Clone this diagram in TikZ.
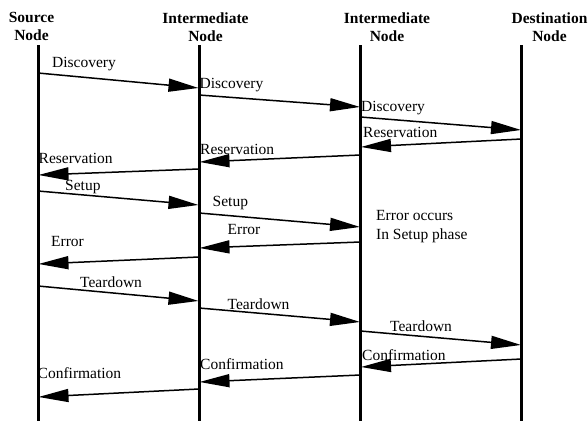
\documentclass[tikz,border=0pt]{standalone}
\usepackage{fontspec}
\setmainfont{Liberation Serif}
\usetikzlibrary{arrows.meta}
\begin{document}
\begin{tikzpicture}[x=1pt,y=-1pt,
  hdr/.style={font=\fontsize{15.5}{18}\selectfont\bfseries, align=center, inner sep=0pt, anchor=north},
  lbl/.style={font=\fontsize{15.5}{18}\selectfont, inner sep=0pt, anchor=base west},
  life/.style={line width=3pt},
  msg/.style={line width=1.5pt, -{Triangle[length=30pt,width=13pt]}, shorten >=0.5pt}]
\useasboundingbox (0,0) rectangle (588,421);
% headers
\node[hdr] (hs)  at (31.5,12.5) {Source\\Node};
\node[hdr] (hi1) at (205.5,12.5) {Intermediate\\Node};
\node[hdr] (hi2) at (387,12.5) {Intermediate\\Node};
\node[hdr] (hd)  at (549.5,12.5) {Destination\\Node};
% lifelines
\coordinate (sT) at (38,45);    \coordinate (sB) at (38,421);
\coordinate (aT) at (199,45);   \coordinate (aB) at (199,421);
\coordinate (bT) at (360.5,45); \coordinate (bB) at (360.5,421);
\coordinate (dT) at (521.5,45); \coordinate (dB) at (521.5,421);
\draw[life] (sT) -- (sB);
\draw[life] (aT) -- (aB);
\draw[life] (bT) -- (bB);
\draw[life] (dT) -- (dB);
% messages
\draw[msg] (sT |- 0,73)  -- (aT |- 0,88);
\draw[msg] (aT |- 0,95)  -- (bT |- 0,107);
\draw[msg] (bT |- 0,117) -- (dT |- 0,130);
\draw[msg] (dT |- 0,139) -- (bT |- 0,147);
\draw[msg] (bT |- 0,155) -- (aT |- 0,162);
\draw[msg] (aT |- 0,169) -- (sT |- 0,175);
\draw[msg] (sT |- 0,191) -- (aT |- 0,205);
\draw[msg] (aT |- 0,213) -- (bT |- 0,227);
\draw[msg] (bT |- 0,242) -- (aT |- 0,248);
\draw[msg] (aT |- 0,257) -- (sT |- 0,264);
\draw[msg] (sT |- 0,286) -- (aT |- 0,301);
\draw[msg] (aT |- 0,308) -- (bT |- 0,322);
\draw[msg] (bT |- 0,331) -- (dT |- 0,345);
\draw[msg] (dT |- 0,359) -- (bT |- 0,367);
\draw[msg] (bT |- 0,375) -- (aT |- 0,382);
\draw[msg] (aT |- 0,389) -- (sT |- 0,397);
% labels
\node[lbl] (l1)  at (52,67)    {Discovery};
\node[lbl] (l2)  at (199.5,88) {Discovery};
\node[lbl] (l3)  at (361,111)  {Discovery};
\node[lbl] (l4)  at (363,137)  {Reservation};
\node[lbl] (l5)  at (200,154.5) {Reservation};
\node[lbl] (l6)  at (38.5,163) {Reservation};
\node[lbl] (l7)  at (65,190.5) {Setup};
\node[lbl] (l8)  at (212.5,206) {Setup};
\node[lbl] (l9)  at (227.5,234.5) {Error};
\node[lbl] (l10) at (51,246)   {Error};
\node[lbl] (e1)  at (376,220)  {Error occurs};
\node[lbl] (e2)  at (376,239)  {In Setup phase};
\node[lbl] (l11) at (80,287)   {Teardown};
\node[lbl] (l12) at (227.5,309) {Teardown};
\node[lbl] (l13) at (390,331)  {Teardown};
\node[lbl] (l14) at (362,360)  {Confirmation};
\node[lbl] (l15) at (200,369)  {Confirmation};
\node[lbl] (l16) at (37.5,378) {Confirmation};
\end{tikzpicture}
\end{document}
